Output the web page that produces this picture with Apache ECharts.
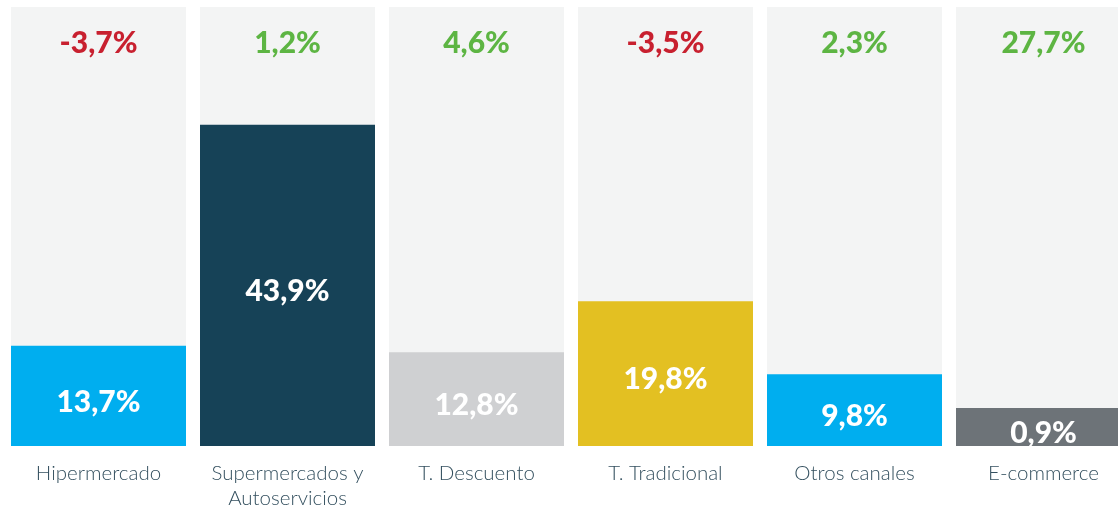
<!DOCTYPE html>
<html>
<head>
<meta charset="utf-8">
<script src="https://cdn.jsdelivr.net/npm/echarts@6/dist/echarts.min.js"></script>
<style>
  html, body { margin: 0; padding: 0; background: #fff; }
  #chart { width: 1118px; height: 510px; }
</style>
</head>
<body>
<div id="chart"></div>
<script>
// cuota por canal (%) y variación (%)
const categories = ["Hipermercado", "Supermercados y\nAutoservicios", "T. Descuento", "T. Tradicional", "Otros canales", "E-commerce"];
const shareValues = [13.7, 43.9, 12.8, 19.8, 9.8, 0.9];
const growthValues = [-3.7, 1.2, 4.6, -3.5, 2.3, 27.7];
const barColors = ["#00aeef", "#164257", "#cfd0d2", "#e3c022", "#00aeef", "#6d7378"];
const yMax = 60;

const fmt = (v) => v.toFixed(1).replace(".", ",") + "%";

const chart = echarts.init(document.getElementById("chart"));

chart.setOption({
  animation: false,
  grid: {
    left: 4,
    top: 7,
    width: 1134,
    height: 439,
    outerBoundsMode: "none",
    containLabel: false,
  },
  xAxis: {
    type: "category",
    data: categories,
    axisLine: { show: false },
    axisTick: { show: false },
    axisLabel: {
      interval: 0,
      margin: 15,
      fontFamily: "Lato",
      fontWeight: 300,
      fontSize: 20.5,
      lineHeight: 25,
      color: "#34505f",
    },
  },
  yAxis: {
    type: "value",
    min: 0,
    max: yMax,
    show: false,
  },
  series: [
    {
      // fondo gris con la variación arriba
      type: "bar",
      barWidth: 175,
      silent: true,
      itemStyle: { color: "#f3f4f4" },
      data: growthValues.map((g) => ({
        value: yMax,
        label: { color: g < 0 ? "#c8202f" : "#5db543" },
      })),
      label: {
        show: true,
        position: "insideTop",
        distance: 21,
        fontFamily: "Lato",
        fontWeight: 900,
        fontSize: 30,
        formatter: (p) => fmt(growthValues[p.dataIndex]),
      },
    },
    {
      type: "bar",
      barWidth: 175,
      barGap: "-100%",
      barMinHeight: 38,
      data: shareValues.map((v, i) => ({
        value: v,
        itemStyle: { color: barColors[i] },
      })),
      label: {
        show: true,
        position: "inside",
        offset: [0, 6],
        fontFamily: "Lato",
        fontWeight: 900,
        fontSize: 30,
        color: "#fff",
        formatter: (p) => fmt(p.value),
      },
    },
  ],
});

window.addEventListener("resize", () => chart.resize());
</script>
</body>
</html>
